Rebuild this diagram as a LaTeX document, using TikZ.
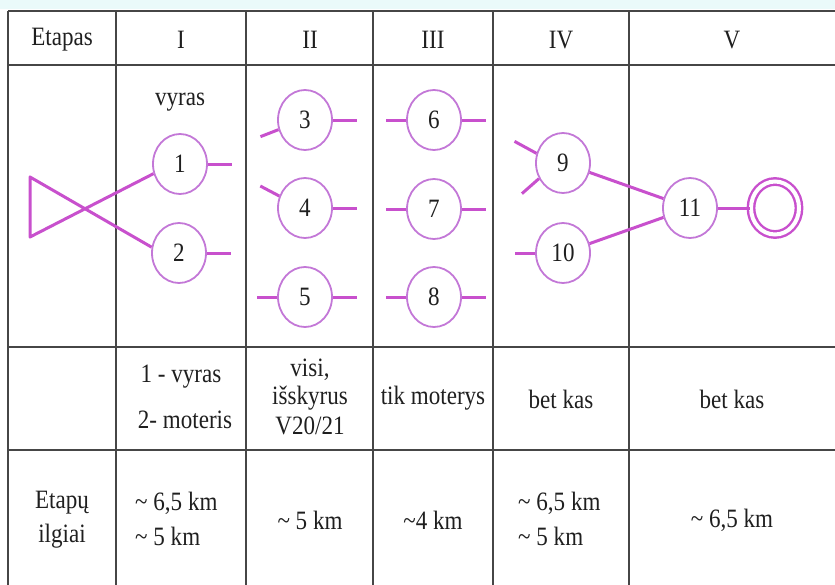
\documentclass[tikz,border=0pt]{standalone}
\usepackage{fontspec}
\setmainfont{Liberation Serif}[FakeStretch=0.87]
\usetikzlibrary{shapes.geometric}
\definecolor{stagepink}{RGB}{200,80,205}
\definecolor{ringpink}{RGB}{195,120,215}
\definecolor{topcyan}{RGB}{234,250,250}
\definecolor{rulegray}{RGB}{70,70,70}

\begin{document}
\begin{tikzpicture}[x=1pt, y=-1pt,
    cell/.style={font=\fontsize{26.5}{30}\selectfont, text=black!88, inner sep=0pt},
    rule/.style={draw=rulegray, line width=1.8pt},
    stage/.style={ellipse, draw=ringpink, line width=1.8pt, minimum width=54pt, minimum height=60pt,
      inner sep=0pt, font=\fontsize{26.5}{30}\selectfont, text=black!88},
    link/.style={draw=stagepink, line width=3pt, line join=round},
    stub/.style={draw=stagepink, line width=3pt}
  ]
  \useasboundingbox (0,0) rectangle (835,584);
  \clip (0,0) rectangle (835,584);
  \fill[topcyan] (0,0) rectangle (835,9);

  % table rules
  \foreach \x in {8,116,246,373,493,629,837}
    \draw[rule] (\x,11) -- (\x,592);
  \foreach \y in {11,65,347,450}
    \draw[rule] (8,\y) -- (837,\y);

  % header
  \foreach \t/\x [count=\i] in {Etapas/62, I/181, II/310, III/433, IV/561, V/732}
    \node[cell] (hdr\i) at (\x,40) {\t};

  % stages
  \foreach \n/\x/\y in {1/180/164, 2/179/253, 3/305/120, 4/305/208, 5/305/297,
      6/434/120, 7/434/209, 8/434/297, 9/563/163, 10/563/253, 11/690/208}
    \node[stage] (n\n) at (\x,\y) {\n};
  \node[cell] (vyras) at (180,102) {vyras};
  \node[ellipse, draw=stagepink, line width=2.4pt, double=white, double distance=4pt,
    minimum width=48pt, minimum height=53pt] (fin) at (775,208) {};

  % start triangle
  \coordinate (ta) at (30,177);
  \coordinate (tb) at (30,237);
  \draw[link] (n2.168) -- (ta) -- (tb) -- (n1.200);

  % stubs
  \foreach \n in {1,...,8}
    \draw[stub] (n\n.east) -- ++(24,0);
  \foreach \n in {5,6,7,8,10}
    \draw[stub] (n\n.west) -- ++(-20,0);
  \draw[stub] (n3.200) -- ++(-18,7);
  \draw[stub] (n4.155) -- ++(-19,-10);
  \draw[stub] (n9.160) -- ++(-22,-12);
  \draw[stub] (n9.213) -- ++(-17,15);

  % finish
  \draw[link] (n9) -- (n11);
  \draw[link] (n10) -- (n11);
  \draw[link] (n11) -- (fin);

  % who runs
  \node[cell] (who1a) at (181,377) {1 - vyras};
  \node[cell] (who1b) at (185,420) {2- moteris};
  \node[cell] (who2a) at (310,370) {visi,};
  \node[cell] (who2b) at (310,398) {išskyrus};
  \node[cell] (who2c) at (310,426) {V20/21};
  \node[cell] (who3) at (433,398) {tik moterys};
  \node[cell] (who4) at (561,399) {bet kas};
  \node[cell] (who5) at (732,399) {bet kas};

  % lengths
  \node[cell] (lenA) at (62,503) {Etapų};
  \node[cell] (lenB) at (62,536) {ilgiai};
  \node[cell, anchor=west] (len1a) at (135,503) {\textasciitilde{} 6,5 km};
  \node[cell, anchor=west] (len1b) at (135,536) {\textasciitilde{} 5 km};
  \node[cell] (len2) at (310,520) {\textasciitilde{} 5 km};
  \node[cell] (len3) at (433,520) {\textasciitilde4 km};
  \node[cell, anchor=west] (len4a) at (518,503) {\textasciitilde{} 6,5 km};
  \node[cell, anchor=west] (len4b) at (518,536) {\textasciitilde{} 5 km};
  \node[cell] (len5) at (732,520) {\textasciitilde{} 6,5 km};
\end{tikzpicture}
\end{document}
